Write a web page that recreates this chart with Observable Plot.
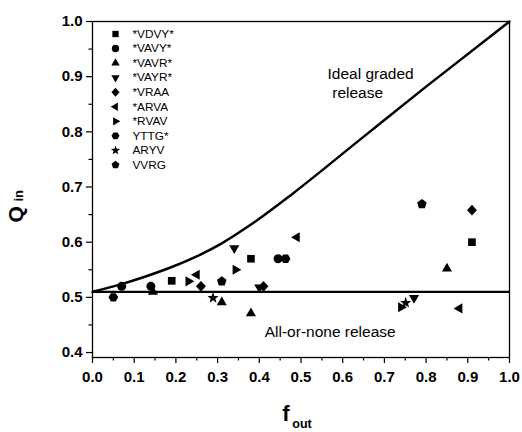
<!DOCTYPE html>
<html>
<head>
<meta charset="utf-8">
<script src="https://cdn.jsdelivr.net/npm/d3@7"></script>
<script src="https://cdn.jsdelivr.net/npm/@observablehq/plot@0.6"></script>
<style>
  html, body { margin: 0; padding: 0; background: #fff; }
  #chart svg { font-family: "Liberation Sans", Arial, sans-serif; display: block; }
</style>
</head>
<body>
<div id="chart"></div>
<script>
// ---- data ----
const seriesNames = ["*VDVY*", "*VAVY*", "*VAVR*", "*VAYR*", "*VRAA", "*ARVA", "*RVAV", "YTTG*", "ARYV", "VVRG"];
const VDVY = [[0.19, 0.53], [0.38, 0.57], [0.91, 0.60]];
const VAVY = [[0.07, 0.52], [0.14, 0.52], [0.445, 0.57]];
const VAVR = [[0.145, 0.51], [0.31, 0.491], [0.38, 0.471], [0.85, 0.552]];
const VAYR = [[0.34, 0.589], [0.40, 0.518], [0.771, 0.499]];
const VRAA = [[0.26, 0.52], [0.41, 0.52], [0.91, 0.658]];
const ARVA = [[0.25, 0.541], [0.49, 0.609], [0.88, 0.48]];
const RVAV = [[0.23, 0.529], [0.343, 0.55], [0.74, 0.482]];
const YTTG = [[0.05, 0.50], [0.463, 0.57]];
const ARYV = [[0.289, 0.499], [0.751, 0.49]];
const VVRG = [[0.31, 0.529], [0.79, 0.669]];
const seriesPoints = [VDVY, VAVY, VAVR, VAYR, VRAA, ARVA, RVAV, YTTG, ARYV, VVRG];

// ideal graded release curve
const curveF = [0, 0.07, 0.12, 0.19, 0.26, 0.31, 0.38, 0.48, 0.64, 0.80, 1.0];
const curveQ = [0.51, 0.524, 0.536, 0.555, 0.578, 0.598, 0.632, 0.688, 0.785, 0.882, 1.0];
const allOrNoneQ = 0.51;

const xTicks = [0, 0.1, 0.2, 0.3, 0.4, 0.5, 0.6, 0.7, 0.8, 0.9, 1.0];
const xMinor = [0.05, 0.15, 0.25, 0.35, 0.45, 0.55, 0.65, 0.75, 0.85, 0.95];
const yTicks = [0.4, 0.5, 0.6, 0.7, 0.8, 0.9, 1.0];
const yMinor = [0.45, 0.55, 0.65, 0.75, 0.85, 0.95];

const annotations = [
  {text: "Ideal graded", f: 0.5636, q: 0.904},
  {text: "release", f: 0.575, q: 0.871},
  {text: "All-or-none release", f: 0.413, q: 0.438}
];

// ---- symbols ----
const rad = size => Math.sqrt(size / Math.PI);
const polygon = (n, scale, a0) => ({
  draw(ctx, size) {
    const R = rad(size) * scale;
    for (let i = 0; i < n; i++) {
      const a = a0 + i * 2 * Math.PI / n;
      const x = R * Math.cos(a), y = R * Math.sin(a);
      if (i === 0) ctx.moveTo(x, y); else ctx.lineTo(x, y);
    }
    ctx.closePath();
  }
});
const symSquare = {draw(ctx, size) { const h = rad(size) * 0.85; ctx.rect(-h, -h, 2 * h, 2 * h); }};
const symCircle = {draw(ctx, size) { const r = rad(size); ctx.moveTo(r, 0); ctx.arc(0, 0, r, 0, 2 * Math.PI); ctx.closePath(); }};
const symDiamond = {draw(ctx, size) {
  const r = rad(size), w = r * 1.1, h = r * 1.2;
  ctx.moveTo(0, -h); ctx.lineTo(w, 0); ctx.lineTo(0, h); ctx.lineTo(-w, 0); ctx.closePath();
}};
const symStar = {draw(ctx, size) {
  const R = rad(size) * 1.3, ri = R * 0.42;
  for (let i = 0; i < 10; i++) {
    const a = -Math.PI / 2 + i * Math.PI / 5, rr = i % 2 ? ri : R;
    const x = rr * Math.cos(a), y = rr * Math.sin(a);
    if (i === 0) ctx.moveTo(x, y); else ctx.lineTo(x, y);
  }
  ctx.closePath();
}};
const symTriUp = polygon(3, 1.3, -Math.PI / 2);
const symTriDown = polygon(3, 1.3, Math.PI / 2);
const symTriLeft = polygon(3, 1.3, Math.PI);
const symTriRight = polygon(3, 1.3, 0);
const symHexagon = polygon(6, 1.08, 0);
const symPentagon = polygon(5, 1.12, -Math.PI / 2);
const symbolRange = [symSquare, symCircle, symTriUp, symTriDown, symDiamond, symTriLeft, symTriRight, symHexagon, symStar, symPentagon];

const points = seriesNames.flatMap((s, i) => seriesPoints[i].map(([f, q]) => ({series: s, f, q})));
const curve = curveF.map((f, i) => ({f, q: curveQ[i]}));

const fmt = d3.format(".1f");
const legendMarks = seriesNames.flatMap((s, i) => [
  Plot.dot([s], {frameAnchor: "top-left", dx: 23, dy: 12.5 + i * 14.55, r: 3.7, symbol: symbolRange[i], fill: "black", stroke: "none"}),
  Plot.text([s], {frameAnchor: "top-left", dx: 40, dy: 12.5 + i * 14.55, text: d => d, textAnchor: "start", lineAnchor: "middle", fontSize: 11.8, fill: "black"})
]);

const chart = Plot.plot({
  width: 522,
  height: 432,
  marginLeft: 92,
  marginRight: 13,
  marginTop: 21,
  marginBottom: 75,
  style: {fontFamily: "'Liberation Sans', Arial, sans-serif", color: "black", background: "white"},
  x: {domain: [0, 1]},
  y: {domain: [0.391, 1.0]},
  symbol: {domain: seriesNames, range: symbolRange},
  marks: [
    Plot.axisX(xTicks, {tickSize: 6, tickPadding: 8, tickFormat: fmt, fontSize: 15, fontWeight: "bold", strokeWidth: 1.2, label: null}),
    Plot.axisX(xMinor, {tickSize: 3.5, tickFormat: () => "", strokeWidth: 1.2, label: null}),
    Plot.axisY(yTicks, {tickSize: 6, tickPadding: 4, tickFormat: fmt, fontSize: 15, fontWeight: "bold", strokeWidth: 1.2, label: null}),
    Plot.axisY(yMinor, {tickSize: 3.5, tickFormat: () => "", strokeWidth: 1.2, label: null}),
    Plot.frame({stroke: "black", strokeWidth: 1.3}),
    Plot.ruleY([allOrNoneQ], {x1: 0, x2: 1, stroke: "black", strokeWidth: 2.2}),
    Plot.line(curve, {x: "f", y: "q", curve: "monotone-x", stroke: "black", strokeWidth: 2.5}),
    Plot.dot(points, {x: "f", y: "q", symbol: "series", r: 4.5, fill: "black", stroke: "none"}),
    Plot.text(annotations, {x: "f", y: "q", text: "text", textAnchor: "start", lineAnchor: "middle", fontSize: 15.5, fill: "black"}),
    ...legendMarks,
    // axis titles
    Plot.text(["f"], {frameAnchor: "bottom", dx: -15, dy: 56, text: d => d, fontSize: 22, fontWeight: "bold", lineAnchor: "middle", fill: "black"}),
    Plot.text(["out"], {frameAnchor: "bottom", dx: 1, dy: 66, text: d => d, fontSize: 12.5, fontWeight: "bold", lineAnchor: "middle", fill: "black"}),
    Plot.text(["Q"], {frameAnchor: "left", dx: -76, dy: 33, rotate: -90, text: d => d, fontSize: 21, fontWeight: "bold", lineAnchor: "middle", fill: "black"}),
    Plot.text(["in"], {frameAnchor: "left", dx: -74, dy: 12, rotate: -90, text: d => d, fontSize: 13, fontWeight: "bold", lineAnchor: "middle", fill: "black"})
  ]
});
document.getElementById("chart").appendChild(chart);
</script>
</body>
</html>
